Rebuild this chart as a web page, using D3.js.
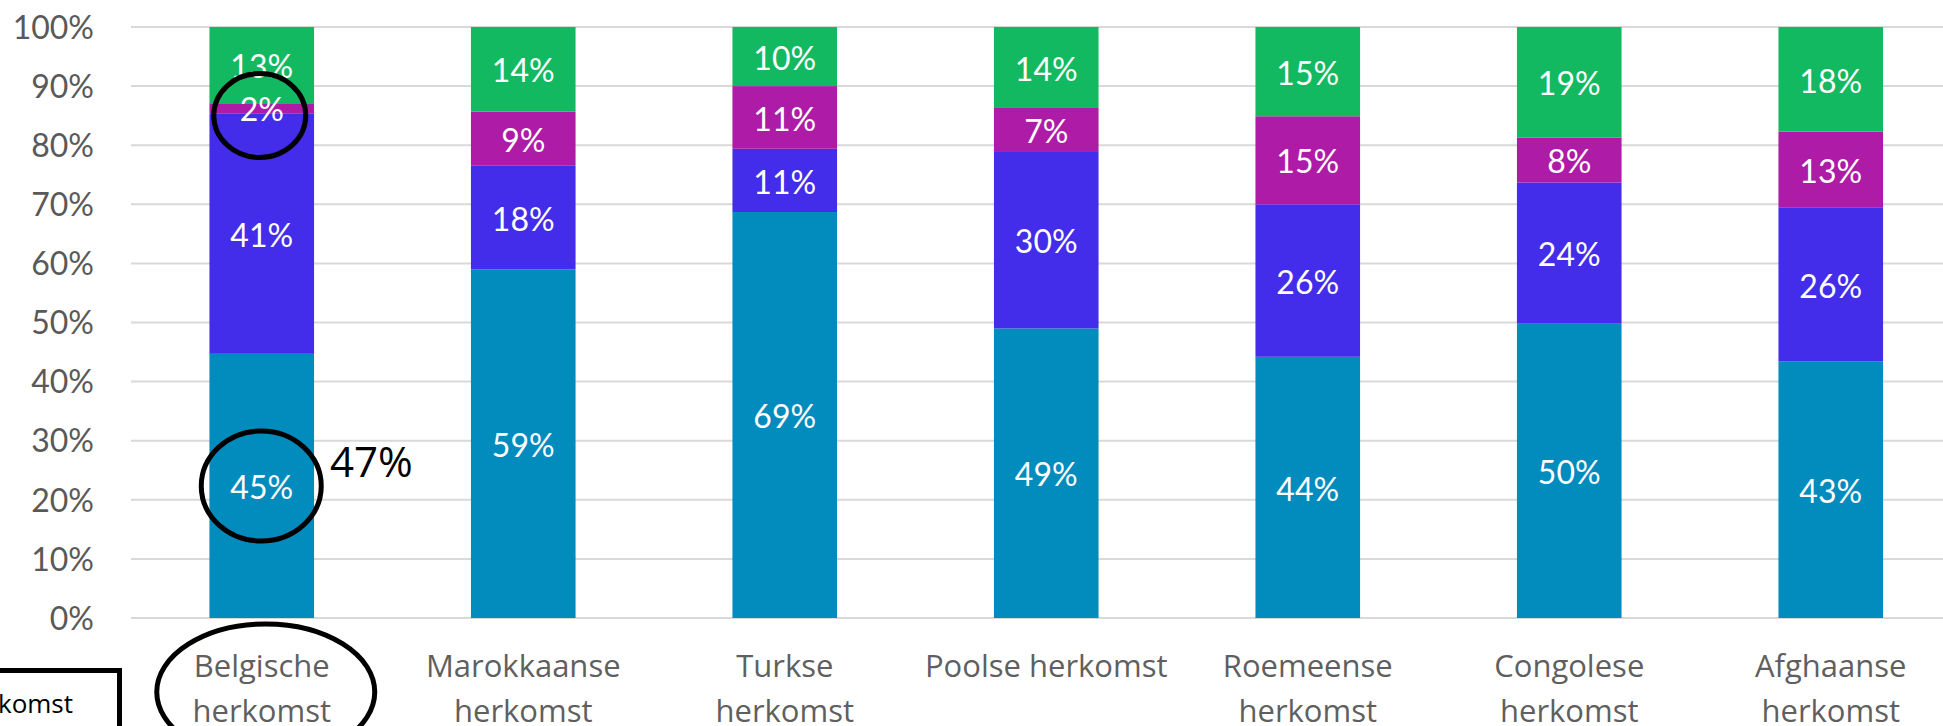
<!DOCTYPE html>
<html>
<head>
<meta charset="utf-8">
<script src="https://cdn.jsdelivr.net/npm/d3@7"></script>
<style>
  html, body { margin: 0; padding: 0; background: #fff; overflow: hidden; }
  svg { display: block; }
</style>
</head>
<body>
<svg id="chart" width="1943" height="726"></svg>
<script>
// ---- data ----
const categories = ["Belgische herkomst", "Marokkaanse herkomst", "Turkse herkomst", "Poolse herkomst", "Roemeense herkomst", "Congolese herkomst", "Afghaanse herkomst"];
const categoryLines = [["Belgische", "herkomst"], ["Marokkaanse", "herkomst"], ["Turkse", "herkomst"], ["Poolse herkomst"], ["Roemeense", "herkomst"], ["Congolese", "herkomst"], ["Afghaanse", "herkomst"]];
const seriesNames = ["s1", "s2", "s3", "s4"];
const s1 = [44.7, 59.0, 68.7, 49.0, 44.2, 49.9, 43.4];
const s2 = [40.7, 17.6, 10.7, 30.0, 25.8, 23.8, 26.1];
const s3 = [1.7, 9.1, 10.6, 7.3, 14.9, 7.6, 12.8];
const s4 = [12.9, 14.3, 10.0, 13.7, 15.1, 18.7, 17.7];
const seriesColors = ["#028BBD", "#432CEA", "#AD1BA7", "#12B960"];
const yTicks = [0, 10, 20, 30, 40, 50, 60, 70, 80, 90, 100];

// ---- layout ----
const svg = d3.select("#chart");
const plotLeft = 131, plotTop = 27, plotBottom = 618;
const step = 261.5;
const x = d3.scaleBand().domain(categories)
  .range([plotLeft, plotLeft + step * categories.length])
  .paddingInner(0.6).paddingOuter(0.3);
const y = d3.scaleLinear().domain([0, 100]).range([plotBottom, plotTop]);

// gridlines
svg.append("g").selectAll("line").data(yTicks).join("line")
  .attr("x1", plotLeft).attr("x2", 1943)
  .attr("y1", d => y(d)).attr("y2", d => y(d))
  .attr("stroke", "#D9D9D9").attr("stroke-width", 2);

// y axis
const yAxis = svg.append("g").attr("transform", "translate(94,0)")
  .call(d3.axisLeft(y).tickValues(yTicks).tickSize(0).tickPadding(0).tickFormat(d => d + "%"));
yAxis.select(".domain").remove();
yAxis.selectAll("text").attr("font-family", "Lato, sans-serif").attr("font-size", 32)
  .attr("fill", "#595959").attr("dy", "0.35em");

// stacked data
const rows = categories.map((c, i) => ({ cat: c, s1: s1[i], s2: s2[i], s3: s3[i], s4: s4[i] }));
const stacked = d3.stack().keys(seriesNames)(rows);

const layers = svg.append("g").selectAll("g").data(stacked).join("g")
  .attr("fill", (d, i) => seriesColors[i]);
layers.selectAll("rect").data(d => d).join("rect")
  .attr("x", d => x(d.data.cat))
  .attr("width", x.bandwidth())
  .attr("y", d => y(d[1]))
  .attr("height", d => y(d[0]) - y(d[1]));

// bar labels
const labels = svg.append("g").attr("font-family", "Lato, sans-serif").attr("font-size", 32)
  .attr("fill", "#fff").attr("text-anchor", "middle");
stacked.forEach(layer => {
  labels.selectAll(null).data(layer).join("text")
    .attr("x", d => x(d.data.cat) + x.bandwidth() / 2)
    .attr("y", d => (y(d[0]) + y(d[1])) / 2 + 2)
    .attr("dy", "0.35em")
    .text(d => Math.round(d[1] - d[0]) + "%");
});

// category labels
const catG = svg.append("g").attr("font-family", "'Open Sans', sans-serif").attr("font-size", 31)
  .attr("fill", "#5F5F5F").attr("text-anchor", "middle");
categories.forEach((c, i) => {
  const t = catG.append("text").attr("x", x(c) + x.bandwidth() / 2).attr("y", 677);
  categoryLines[i].forEach((ln, j) => {
    t.append("tspan").attr("x", x(c) + x.bandwidth() / 2).attr("dy", j === 0 ? 0 : 45).text(ln);
  });
});

// annotations
const bx = x(categories[0]) + x.bandwidth() / 2;
const ann = svg.append("g").attr("fill", "none").attr("stroke", "#000").attr("stroke-width", 5);
ann.append("ellipse").attr("cx", bx - 2).attr("cy", 115.5).attr("rx", 46).attr("ry", 42);
ann.append("ellipse").attr("cx", bx - 0.5).attr("cy", 486).attr("rx", 60).attr("ry", 55);
ann.append("ellipse").attr("cx", bx + 4).attr("cy", 692).attr("rx", 109).attr("ry", 68);

svg.append("text").attr("x", 330).attr("y", 477)
  .attr("font-family", "'Open Sans', sans-serif").attr("font-size", 42).attr("fill", "#000")
  .text("47%");

svg.append("rect").attr("x", -20).attr("y", 670.5).attr("width", 139.5).attr("height", 100)
  .attr("fill", "#fff").attr("stroke", "#000").attr("stroke-width", 5);
svg.append("text").attr("x", 73).attr("y", 713).attr("text-anchor", "end")
  .attr("font-family", "'Open Sans', sans-serif").attr("font-size", 26).attr("fill", "#000")
  .text("komst");
</script>
</body>
</html>
